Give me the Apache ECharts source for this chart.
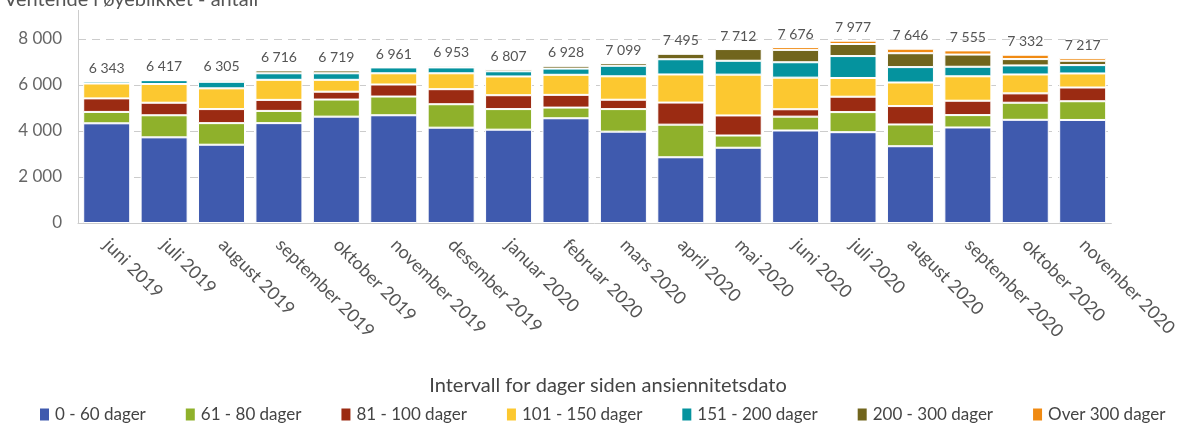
<!DOCTYPE html>
<html lang="no">
<head>
    <meta charset="UTF-8">
    <title>Ventende i øyeblikket - antall</title>
    <script type="text/javascript" src="https://cdn.jsdelivr.net/npm/echarts@6.0.0/dist/echarts.min.js"></script>
    <style type="text/css">
        body{margin:0;padding:0;background:#fff;}
        #main{width:1180px;height:423px;}
    </style>
</head>
<body>
<div id="main"></div>
<script type="text/javascript">
    // måneder (x-akse)
    var months = ['juni 2019','juli 2019','august 2019','september 2019','oktober 2019','november 2019',
        'desember 2019','januar 2020','februar 2020','mars 2020','april 2020','mai 2020',
        'juni 2020','juli 2020','august 2020','september 2020','oktober 2020','november 2020'];

    // antall per intervall (lest av bildet)
    var d0_60    = [4334,3724,3404,4342,4625,4684,4145,4058,4553,3971,2858,3273,4022,3949,3338,4153,4487,4480];
    var d61_80   = [495,960,938,531,742,814,1019,895,465,982,1418,531,603,873,946,538,742,814];
    var d81_100  = [589,545,611,480,342,524,654,603,553,407,960,872,320,669,800,625,407,597];
    var d101_150 = [647,815,901,872,516,487,691,815,873,1018,1222,1775,1375,814,1025,1062,822,611];
    var d151_200 = [88,167,284,284,284,255,255,225,269,458,662,603,669,953,669,415,393,363];
    var d200_300 = [0,20,87,124,124,0,72,95,123,117,240,509,538,524,604,530,276,189];
    var dOver300 = [0,0,0,0,0,0,0,0,0,0,0,0,124,145,196,182,189,117];

    // totaler som står over søylene
    var totals = [6343,6417,6305,6716,6719,6961,6953,6807,6928,7099,7495,7712,7676,7977,7646,7555,7332,7217];

    var names  = ['0 - 60 dager','61 - 80 dager','81 - 100 dager','101 - 150 dager','151 - 200 dager','200 - 300 dager','Over 300 dager'];
    var colors = ['#3f5aae','#8fb12b','#9b2b12','#fcc830','#05939e','#71651d','#f08a12'];
    var yTicks = [0,2000,4000,6000,8000];

    function fmt(v){
        return String(v).replace(/\B(?=(\d{3})+(?!\d))/g,' ');
    }

    var font = 'Lato, "Open Sans", sans-serif';
    var allData = [d0_60,d61_80,d81_100,d101_150,d151_200,d200_300,dOver300];

    var series = [];
    for(var i=0;i<names.length;i++){
        series.push({
            name: names[i],
            type: 'bar',
            stack: 'total',
            barWidth: 47,
            data: allData[i],
            itemStyle: {color: colors[i], borderColor: '#fff', borderWidth: 1}
        });
    }
    // tom serie bare for total-etikettene
    series.push({
        name: 'total',
        type: 'bar',
        stack: 'total',
        barWidth: 47,
        data: months.map(function(){ return 0; }),
        itemStyle: {color: 'transparent'},
        label: {
            show: true,
            position: 'top',
            distance: 6,
            color: '#555',
            fontSize: 14,
            fontFamily: font,
            formatter: function(p){ return fmt(totals[p.dataIndex]); }
        }
    });

    var myChart = echarts.init(document.getElementById('main'));
    var option = {
        animation: false,
        title: [{
            text: 'Ventende i øyeblikket - antall',
            left: -1,
            top: -15,
            textStyle: {color: '#555', fontSize: 20, fontWeight: 'normal', fontFamily: font}
        },{
            text: 'Intervall for dager siden ansiennitetsdato',
            left: 603,
            textAlign: 'center',
            top: 371,
            textStyle: {color: '#444', fontSize: 20, fontWeight: 'normal', fontFamily: font}
        }],
        legend: {
            data: names,
            left: 38,
            right: 0,
            top: 406,
            padding: 0,
            icon: 'rect',
            itemWidth: 11,
            itemHeight: 14,
            itemGap: 38,
            textStyle: {color: '#444', fontSize: 17, fontFamily: font}
        },
        grid: {left: 78, right: 63, top: 39, bottom: 200},
        xAxis: {
            type: 'category',
            data: months,
            axisLine: {lineStyle: {color: '#ccc'}},
            axisTick: {alignWithLabel: true, length: 8, lineStyle: {color: '#ccc'}},
            axisLabel: {rotate: -45, margin: 19, color: '#555', fontSize: 18, fontFamily: font, interval: 0}
        },
        yAxis: {
            type: 'value',
            min: yTicks[0],
            max: yTicks[yTicks.length-1],
            interval: 2000,
            axisLine: {show: true, lineStyle: {color: '#ccc'}},
            axisTick: {show: false},
            axisLabel: {color: '#666', fontSize: 17, margin: 16, fontFamily: font, formatter: fmt},
            splitLine: {lineStyle: {color: '#ccc', type: [8,6]}}
        },
        graphic: [{
            // y-aksen fortsetter litt over 8 000
            type: 'line',
            shape: {x1: 78.5, y1: 10, x2: 78.5, y2: 39},
            style: {stroke: '#ccc', lineWidth: 1}
        }],
        series: series
    };
    myChart.setOption(option);
</script>
</body>
</html>
